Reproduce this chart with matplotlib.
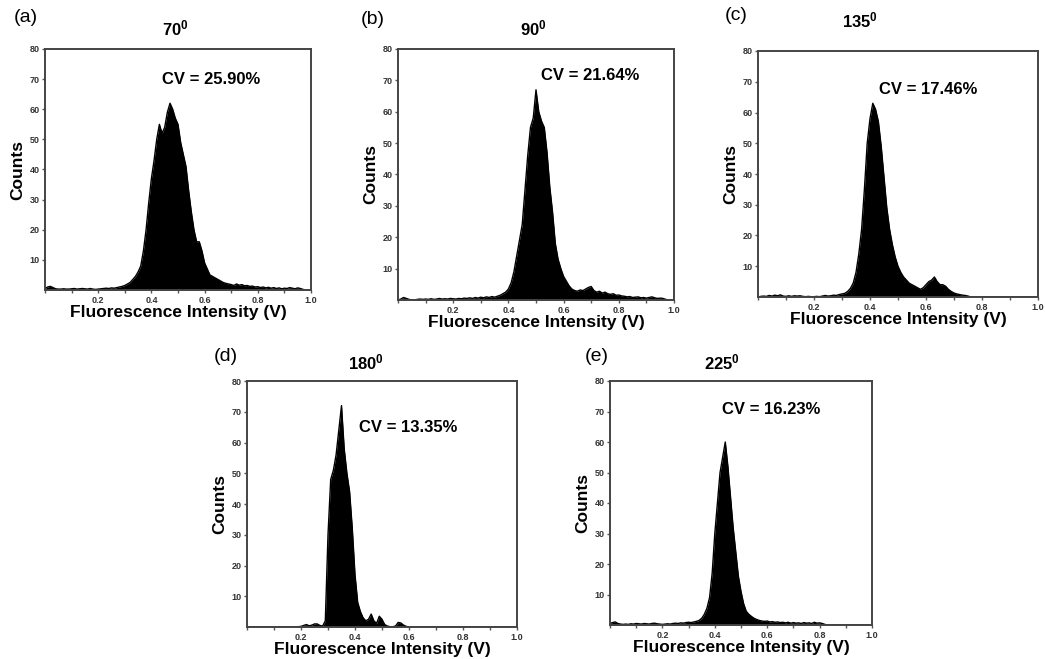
import numpy as np
import matplotlib
matplotlib.use("Agg")
import matplotlib.pyplot as plt
from matplotlib.ticker import MultipleLocator

plt.rcParams["font.family"] = ["Liberation Sans", "DejaVu Sans"]
plt.rcParams["mathtext.fontset"] = "custom"
plt.rcParams["mathtext.rm"] = "Liberation Sans"
plt.rcParams["mathtext.bf"] = "Liberation Sans:bold"

# fluorescence intensity bins (V), 0.01 V wide
intensity = np.round(np.arange(0.0, 1.0, 0.01), 2)

counts_70 = [
    0.5, 1.0, 1.2, 0.8, 0.4, 0.3, 0.3, 0.4, 0.3, 0.3,
    0.4, 0.5, 0.3, 0.4, 0.5, 0.4, 0.3, 0.5, 0.3, 0.2,
    0.3, 0.4, 0.5, 0.6, 0.5, 0.7, 0.6, 0.8, 1.0, 1.2,
    1.5, 2.0, 2.5, 3.5, 4.5, 6.0, 8.0, 13, 20, 29,
    37, 43, 50, 55, 52, 54, 59, 62, 60, 57,
    55, 49, 45, 41, 33, 26, 20, 16, 16, 13,
    9.0, 7.0, 5.0, 4.5, 4.0, 3.5, 3.0, 2.5, 2.2, 2.0,
    1.8, 1.5, 2.0, 1.6, 1.8, 1.4, 1.5, 1.2, 1.3, 1.0,
    1.1, 0.8, 1.0, 0.7, 0.9, 0.6, 0.8, 0.5, 0.7, 0.4,
    0.6, 0.5, 0.8, 0.6, 0.4, 0.7, 0.5, 0.2, 0.0, 0.0,
]
counts_90 = [
    0.0, 0.3, 0.8, 0.5, 0.2, 0.0, 0.0, 0.2, 0.3, 0.2,
    0.3, 0.2, 0.4, 0.2, 0.3, 0.5, 0.3, 0.4, 0.3, 0.5,
    0.4, 0.3, 0.5, 0.4, 0.6, 0.5, 0.7, 0.5, 0.8, 0.6,
    0.9, 0.7, 1.0, 0.8, 1.1, 0.9, 1.2, 1.5, 2.0, 2.5,
    3.5, 5.5, 9.0, 14, 19, 24, 35, 46, 55, 58,
    67, 60, 57, 55, 47, 36, 28, 18, 13, 10,
    7.5, 6.0, 4.5, 3.5, 3.0, 2.8, 3.2, 3.0, 3.5, 4.0,
    4.3, 3.0, 2.5, 2.8, 2.2, 2.5, 2.0, 1.8, 2.0, 1.5,
    1.6, 1.3, 1.2, 1.0, 1.1, 0.8, 0.9, 1.0, 0.7, 0.8,
    0.6, 0.8, 1.0, 0.7, 0.5, 0.6, 0.5, 0.2, 0.0, 0.0,
]
counts_135 = [
    0.0, 0.2, 0.3, 0.2, 0.5, 0.3, 0.6, 0.4, 0.7, 0.3,
    0.2, 0.4, 0.2, 0.4, 0.3, 0.4, 0.2, 0.1, 0.2, 0.1,
    0.1, 0.2, 0.1, 0.3, 0.5, 0.3, 0.4, 0.6, 0.5, 0.8,
    1.0, 1.2, 1.8, 2.8, 4.5, 8.0, 14, 22, 35, 50,
    58, 63, 61, 57, 49, 39, 29, 22, 17, 13,
    10, 8.0, 6.5, 5.5, 4.5, 4.0, 3.5, 3.0, 2.5, 3.0,
    4.0, 5.0, 5.5, 6.5, 5.0, 4.0, 4.0, 3.5, 2.5, 1.8,
    1.3, 1.0, 0.8, 0.6, 0.5, 0.3, 0.0, 0.0, 0.0, 0.0,
    0.0, 0.0, 0.0, 0.0, 0.0, 0.0, 0.0, 0.0, 0.0, 0.0,
    0.0, 0.0, 0.0, 0.0, 0.0, 0.0, 0.0, 0.0, 0.0, 0.0,
]
counts_180 = [
    0.0, 0.0, 0.0, 0.0, 0.0, 0.0, 0.0, 0.0, 0.0, 0.0,
    0.0, 0.0, 0.0, 0.0, 0.0, 0.0, 0.0, 0.0, 0.0, 0.1,
    0.2, 0.5, 0.8, 0.4, 0.6, 1.0, 1.0, 0.5, 0.3, 2.0,
    30, 48, 51, 56, 64, 72, 58, 50, 44, 32,
    17, 8.0, 5.0, 3.0, 2.0, 2.5, 4.2, 2.0, 1.2, 3.5,
    2.5, 0.8, 0.3, 0.1, 0.1, 0.3, 1.5, 1.3, 0.6, 0.2,
    0.0, 0.0, 0.0, 0.0, 0.0, 0.0, 0.0, 0.0, 0.0, 0.0,
    0.0, 0.0, 0.0, 0.0, 0.0, 0.0, 0.0, 0.0, 0.0, 0.0,
    0.0, 0.0, 0.0, 0.0, 0.0, 0.0, 0.0, 0.0, 0.0, 0.0,
    0.0, 0.0, 0.0, 0.0, 0.0, 0.0, 0.0, 0.0, 0.0, 0.0,
]
counts_225 = [
    0.5, 0.8, 1.0, 0.5, 0.3, 0.2, 0.3, 0.2, 0.4, 0.3,
    0.5, 0.4, 0.3, 0.5, 0.4, 0.3, 0.5, 0.6, 0.4, 0.3,
    0.2, 0.3, 0.4, 0.3, 0.5, 0.6, 0.5, 0.7, 0.6, 0.8,
    0.9, 0.8, 1.0, 1.2, 1.5, 2.2, 3.5, 5.5, 9.0, 17,
    30, 40, 50, 55, 60, 52, 42, 32, 24, 16,
    11, 7.0, 4.5, 3.5, 2.8, 2.2, 1.8, 1.5, 1.3, 1.2,
    1.3, 1.0, 1.1, 0.9, 1.0, 0.8, 0.9, 0.7, 0.9, 0.6,
    0.8, 0.6, 0.7, 0.5, 0.8, 0.6, 0.7, 0.5, 0.9, 0.6,
    0.7, 0.5, 0.2, 0.0, 0.0, 0.0, 0.0, 0.0, 0.0, 0.0,
    0.0, 0.0, 0.0, 0.0, 0.0, 0.0, 0.0, 0.0, 0.0, 0.0,
]

panel_tags = ["(a)", "(b)", "(c)", "(d)", "(e)"]
angles = ["70", "90", "135", "180", "225"]
cv_labels = ["CV = 25.90%", "CV = 21.64%", "CV = 17.46%", "CV = 13.35%", "CV = 16.23%"]
all_counts = [counts_70, counts_90, counts_135, counts_180, counts_225]

W, H = 1045, 659
# axes boxes in pixels: left, top, right, bottom
boxes = [(45, 49, 311, 290), (398, 49, 674, 300), (758, 51, 1038, 297),
         (247, 381, 517, 627), (610, 381, 872, 625)]
# text anchors in pixels
tag_xy = [(26, 17), (373, 20), (736, 15), (226, 357), (597, 357)]
title_xy = [(175, 28), (533, 28), (860, 20), (366, 362), (722, 362)]
cv_xy = [(211, 80), (590, 76), (928, 90), (408, 427), (771, 409)]


def fx(px):
    return px / W


def fy(py):
    return 1 - py / H


fig = plt.figure(figsize=(W / 100, H / 100), dpi=100)

for i in range(5):
    l, t, r, b = boxes[i]
    ax = fig.add_axes([fx(l), fy(b), (r - l) / W, (b - t) / H])
    y = np.array(all_counts[i])
    ax.fill_between(intensity, 0, y, color="black", lw=0)
    ax.plot(intensity, y, color="black", lw=1.0)
    ax.set_xlim(0, 1.0)
    ax.set_ylim(0, 80)
    ax.set_xticks([0.2, 0.4, 0.6, 0.8, 1.0])
    ax.set_xticklabels(["0.2", "0.4", "0.6", "0.8", "1.0"])
    ax.xaxis.set_minor_locator(MultipleLocator(0.1))
    ax.set_yticks(range(10, 81, 10))
    for s in ax.spines.values():
        s.set_linewidth(1.4)
        s.set_color("#444444")
    ax.tick_params(which="both", direction="out", length=2.5, width=1,
                   color="#555555", labelsize=6.5, labelcolor="#333333", pad=1.5)
    ax.tick_params(which="minor", length=2)
    for lab in ax.get_xticklabels() + ax.get_yticklabels():
        lab.set_fontweight("bold")
    ax.set_xlabel("Fluorescence Intensity (V)", fontsize=12.5, fontweight="bold", labelpad=0)
    ax.set_ylabel("Counts", fontsize=12.5, fontweight="bold", labelpad=3)

    fig.text(fx(tag_xy[i][0]), fy(tag_xy[i][1]), panel_tags[i], fontsize=14,
             ha="center", va="center")
    fig.text(fx(title_xy[i][0]), fy(title_xy[i][1]), r"$\mathbf{%s^{0}}$" % angles[i],
             fontsize=12, ha="center", va="center")
    fig.text(fx(cv_xy[i][0]), fy(cv_xy[i][1]), cv_labels[i], fontsize=12,
             fontweight="bold", ha="center", va="center")

fig.savefig("out.png", dpi=100)
